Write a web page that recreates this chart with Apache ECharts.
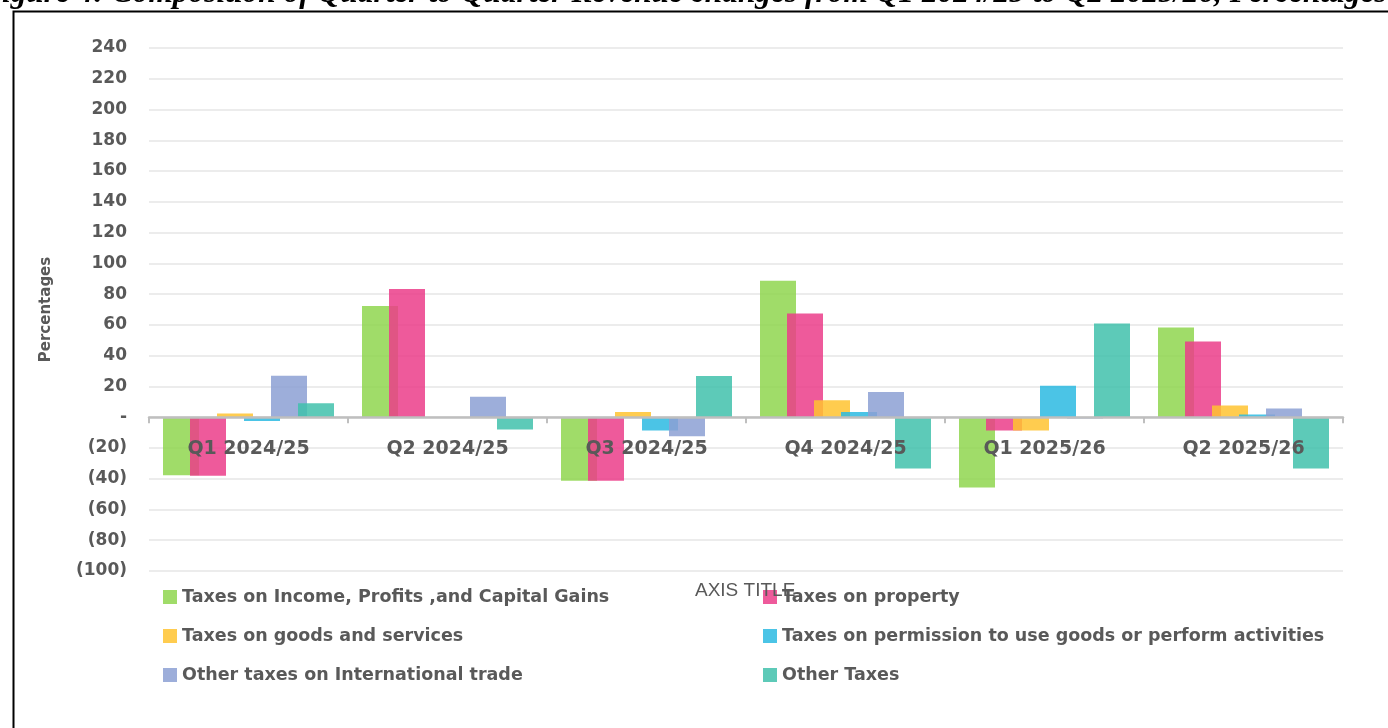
<!DOCTYPE html>
<html>
<head>
<meta charset="utf-8">
<script src="https://cdn.jsdelivr.net/npm/echarts@6/dist/echarts.min.js"></script>
<style>
  html, body { margin: 0; padding: 0; background: #fff; }
  #chart { width: 1388px; height: 728px; }
</style>
</head>
<body>
<div id="chart"></div>
<script>
// quarters on the x axis
const quarters = ["Q1 2024/25", "Q2 2024/25", "Q3 2024/25", "Q4 2024/25", "Q1 2025/26", "Q2 2025/26"];

// quarter to quarter change, percent
const incomeTax = [-37.7, 72.2, -41.4, 88.7, -45.7, 58.3];
const propertyTax = [-38, 83.3, -41.4, 67.4, -8.7, 49.2];
const goodsTax = [2.4, 0, 3.3, 11, -8.7, 7.6];
const permissionTax = [-2.5, 0, -8.7, 3.3, 20.4, 1.7];
const tradeTax = [27, 13.2, -12.4, 16.3, -0.8, 5.7];
const otherTax = [9, -8, 26.7, -33.4, 60.9, -33.4];

const seriesNames = [
  "Taxes on Income, Profits ,and Capital Gains",
  "Taxes on property",
  "Taxes on goods and services",
  "Taxes on permission to use goods or perform activities",
  "Other taxes on International trade",
  "Other Taxes",
];
const seriesValues = [incomeTax, propertyTax, goodsTax, permissionTax, tradeTax, otherTax];
const colors = ["#8FD64F", "#EB3D89", "#FFC330", "#2BBAE2", "#8CA0D4", "#41C1AC"];

const yMin = -100;
const yMax = 240;

const titleText = "Figure 4: Composition of Quarter to Quarter Revenue changes from Q1 2024/25 to Q2 2025/26, Percentages";

const labelColor = "#595959";
const boldFont = "DejaVu Sans";

const gridTop = 48;
const gridBottom = 157;
const chartHeight = 728;

// the category axis sits on the zero line, like the excel original
const plotHeight = chartHeight - gridTop - gridBottom;
const zeroOffset = -plotHeight * (0 - yMin) / (yMax - yMin);

const chart = echarts.init(document.getElementById("chart"), null, { renderer: "canvas" });

const legendText = {
  color: labelColor,
  fontFamily: boldFont,
  fontWeight: "bold",
  fontSize: 17.5,
};

const option = {
  animation: false,
  backgroundColor: "#fff",
  title: {
    text: "AXIS TITLE",
    left: 695,
    top: 581,
    padding: 0,
    textStyle: {
      color: labelColor,
      fontFamily: "Liberation Sans",
      fontWeight: "normal",
      fontSize: 19,
    },
  },
  graphic: [
    {
      type: "rect",
      left: 11,
      top: 9,
      shape: { width: 1450, height: 800 },
      style: { fill: "none", stroke: "#000", lineWidth: 2 },
      z: -1,
    },
    {
      type: "text",
      x: -19,
      y: -6.5,
      style: {
        text: titleText,
        fill: "#000",
        font: "italic bold 31.4px 'Liberation Serif'",
        verticalAlign: "middle",
      },
    },
  ],
  legend: [
    {
      orient: "vertical",
      left: 163,
      top: 588,
      padding: 0,
      itemGap: 21,
      itemWidth: 14,
      itemHeight: 14,
      icon: "rect",
      selectedMode: false,
      data: [seriesNames[0], seriesNames[2], seriesNames[4]],
      textStyle: legendText,
    },
    {
      orient: "vertical",
      left: 763,
      top: 588,
      padding: 0,
      itemGap: 21,
      itemWidth: 14,
      itemHeight: 14,
      icon: "rect",
      selectedMode: false,
      data: [seriesNames[1], seriesNames[3], seriesNames[5]],
      textStyle: legendText,
    },
  ],
  grid: {
    left: 149,
    right: 45,
    top: gridTop,
    bottom: gridBottom,
  },
  xAxis: {
    type: "category",
    data: quarters,
    z: 10,
    offset: zeroOffset,
    axisLine: { onZero: false, lineStyle: { color: "#BFBFBF", width: 2.5 } },
    axisTick: { show: true, length: 6, lineStyle: { color: "#BFBFBF", width: 2 } },
    axisLabel: {
      margin: 22,
      color: labelColor,
      fontFamily: boldFont,
      fontWeight: "bold",
      fontSize: 19,
    },
  },
  yAxis: {
    type: "value",
    min: yMin,
    max: yMax,
    interval: 20,
    name: "Percentages",
    nameLocation: "middle",
    nameGap: 95,
    nameTextStyle: {
      color: labelColor,
      fontFamily: boldFont,
      fontWeight: "bold",
      fontSize: 15,
    },
    axisLine: { show: false },
    axisTick: { show: false },
    splitLine: { lineStyle: { color: "#E6E6E6", width: 1.5 } },
    axisLabel: {
      margin: 22,
      color: labelColor,
      fontFamily: boldFont,
      fontWeight: "bold",
      fontSize: 17,
      formatter: (v) => (v === 0 ? "-" : v < 0 ? "(" + Math.abs(v) + ")" : String(v)),
    },
  },
  series: seriesNames.map((name, i) => ({
    name: name,
    type: "bar",
    data: seriesValues[i],
    barWidth: 36,
    barGap: "-25%",
    itemStyle: { color: colors[i], opacity: 0.85 },
  })),
};

chart.setOption(option);
</script>
</body>
</html>
